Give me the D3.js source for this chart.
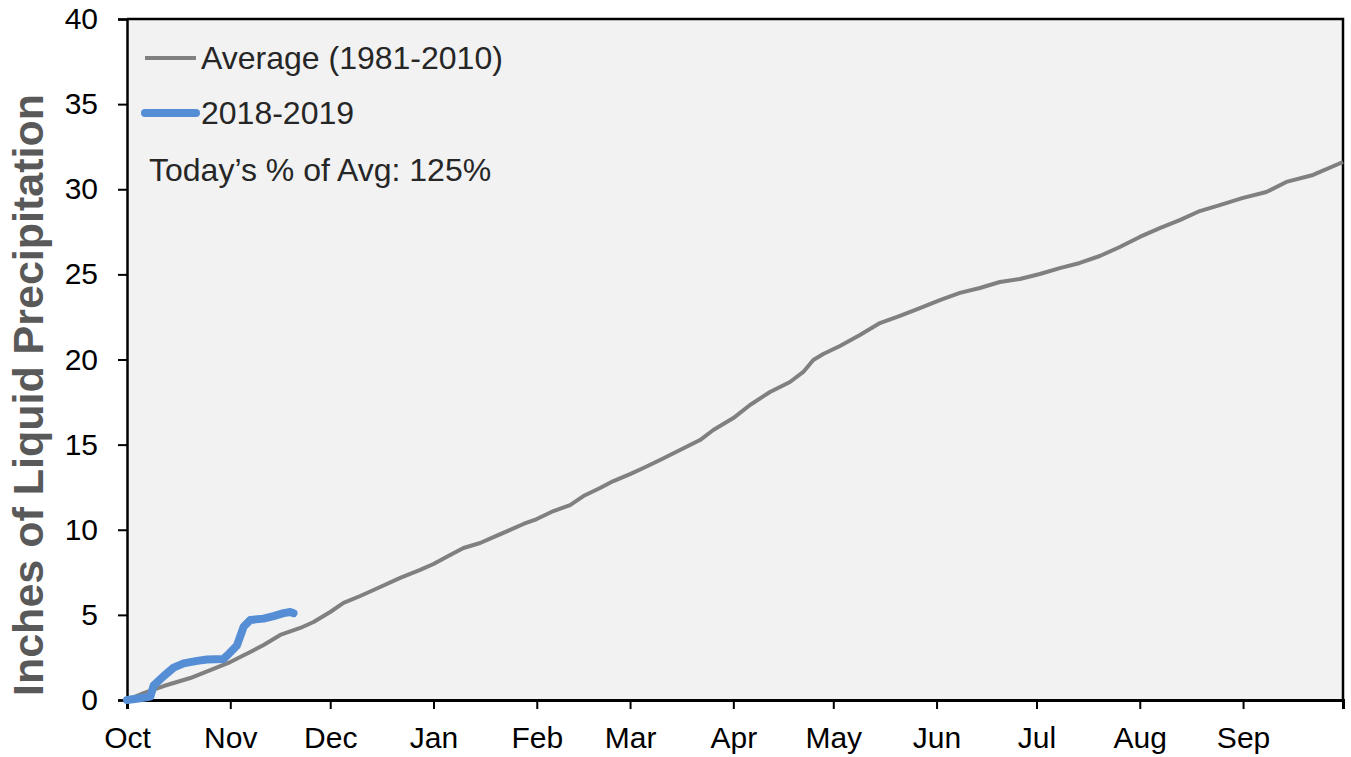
<!DOCTYPE html>
<html>
<head>
<meta charset="utf-8">
<script src="https://cdn.jsdelivr.net/npm/d3@7"></script>
<style>
  html, body { margin: 0; padding: 0; background: #ffffff; }
  svg { display: block; font-family: Arial, "Liberation Sans", sans-serif; }
</style>
</head>
<body>
<svg id="chart" width="1351" height="757"></svg>
<script>
// ---- data ----
const seriesNames = ["Average (1981-2010)", "2018-2019"];
const yTicks = [0, 5, 10, 15, 20, 25, 30, 35, 40];
const monthLabels = ["Oct", "Nov", "Dec", "Jan", "Feb", "Mar", "Apr", "May", "Jun", "Jul", "Aug", "Sep"];
const annotation = "Today\u2019s % of Avg: 125%";
const yTitle = "Inches of Liquid Precipitation";

// days since Oct 1 and cumulative inches
const avgDays = [0, 5, 11, 19, 25, 31, 37, 41, 46, 52, 56, 61, 65, 70, 76, 82, 88, 92, 97, 101, 106, 110, 115, 119, 123, 128, 133, 137, 142, 146, 151, 155, 160, 166, 172, 176, 182, 187, 193, 199, 203, 206, 209, 214, 220, 226, 232, 238, 244, 250, 256, 262, 268, 274, 280, 286, 292, 298, 304, 310, 316, 322, 328, 335, 342, 348, 356, 365];
const avgValues = [0, 0.41, 0.82, 1.29, 1.76, 2.23, 2.82, 3.23, 3.82, 4.23, 4.58, 5.17, 5.70, 6.11, 6.64, 7.17, 7.64, 7.99, 8.52, 8.93, 9.22, 9.57, 9.99, 10.34, 10.63, 11.10, 11.45, 11.98, 12.45, 12.86, 13.27, 13.63, 14.10, 14.68, 15.27, 15.86, 16.56, 17.33, 18.09, 18.68, 19.27, 19.97, 20.32, 20.79, 21.44, 22.14, 22.56, 23.02, 23.49, 23.91, 24.20, 24.55, 24.73, 25.02, 25.37, 25.67, 26.08, 26.61, 27.20, 27.72, 28.19, 28.72, 29.07, 29.49, 29.84, 30.43, 30.84, 31.60];

const curDays = [0, 4, 7, 8, 11, 14, 17, 21, 24, 29, 30, 33, 35, 37, 41, 44, 47, 49, 50];
const curValues = [0, 0.10, 0.20, 0.85, 1.40, 1.90, 2.15, 2.30, 2.38, 2.41, 2.60, 3.20, 4.30, 4.70, 4.78, 4.93, 5.10, 5.17, 5.10];

// ---- layout ----
const svg = d3.select("#chart");
const m = { left: 127, right: 1343, top: 19, bottom: 700 };
const start = new Date(Date.UTC(2018, 9, 1));
const end = new Date(Date.UTC(2019, 9, 1));
const x = d3.scaleUtc().domain([start, end]).range([m.left, m.right]);
const y = d3.scaleLinear().domain([0, 40]).range([m.bottom, m.top]);
const toDate = d => d3.utcDay.offset(start, d);

// plot background
svg.append("rect")
  .attr("x", m.left).attr("y", m.top)
  .attr("width", m.right - m.left).attr("height", m.bottom - m.top)
  .attr("fill", "#f2f2f2");

// frame top / right
svg.append("path")
  .attr("d", `M${m.left},${m.top}H${m.right}V${m.bottom}`)
  .attr("fill", "none").attr("stroke", "#000").attr("stroke-width", 2.5);

// y axis
const yAxis = svg.append("g")
  .attr("transform", `translate(${m.left},0)`)
  .call(d3.axisLeft(y).tickValues(yTicks).tickSize(9).tickPadding(20).tickFormat(d3.format("d")));
yAxis.select(".domain").attr("stroke", "#000").attr("stroke-width", 2.5);
yAxis.selectAll(".tick line").attr("stroke", "#000").attr("stroke-width", 2);
yAxis.selectAll(".tick text").attr("font-size", 30).attr("fill", "#000")
  .attr("font-family", "Arial, 'Liberation Sans', sans-serif");

// x axis
const monthTicks = d3.utcMonth.range(start, d3.utcDay.offset(end, 1));
const xAxis = svg.append("g")
  .attr("transform", `translate(0,${m.bottom})`)
  .call(d3.axisBottom(x).tickValues(monthTicks).tickSize(9).tickPadding(18)
    .tickFormat((d, i) => i < monthLabels.length ? monthLabels[i] : ""));
xAxis.select(".domain").attr("stroke", "#000").attr("stroke-width", 3);
xAxis.selectAll(".tick line").attr("stroke", "#000").attr("stroke-width", 2);
xAxis.selectAll(".tick text").attr("font-size", 30).attr("fill", "#000")
  .attr("font-family", "Arial, 'Liberation Sans', sans-serif");

// y title
svg.append("text")
  .attr("transform", `translate(43,395) rotate(-90)`)
  .attr("text-anchor", "middle")
  .attr("font-size", 43).attr("font-weight", "bold").attr("fill", "#595959")
  .text(yTitle);

// lines
const line = d3.line().x(d => x(toDate(d[0]))).y(d => y(d[1]));
const avgData = avgDays.map((d, i) => [d, avgValues[i]]);
const curData = curDays.map((d, i) => [d, curValues[i]]);

svg.append("path").datum(avgData)
  .attr("d", line).attr("fill", "none")
  .attr("stroke", "#808080").attr("stroke-width", 4)
  .attr("stroke-linejoin", "round");

svg.append("path").datum(curData)
  .attr("d", line).attr("fill", "none")
  .attr("stroke", "#558ed5").attr("stroke-width", 8)
  .attr("stroke-linejoin", "round").attr("stroke-linecap", "round");

// legend
const legend = svg.append("g");
const legendItems = [
  { name: seriesNames[0], color: "#808080", w: 4, cap: "butt", ly: 58 },
  { name: seriesNames[1], color: "#558ed5", w: 8, cap: "round", ly: 113 }
];
legendItems.forEach(it => {
  legend.append("line")
    .attr("x1", 145).attr("x2", 196).attr("y1", it.ly).attr("y2", it.ly)
    .attr("stroke", it.color).attr("stroke-width", it.w).attr("stroke-linecap", it.cap);
  legend.append("text")
    .attr("x", 201).attr("y", it.ly + 11)
    .attr("font-size", 32).attr("fill", "#262626")
    .text(it.name);
});
svg.append("text")
  .attr("x", 149).attr("y", 181)
  .attr("font-size", 32).attr("fill", "#262626")
  .text(annotation);
</script>
</body>
</html>
